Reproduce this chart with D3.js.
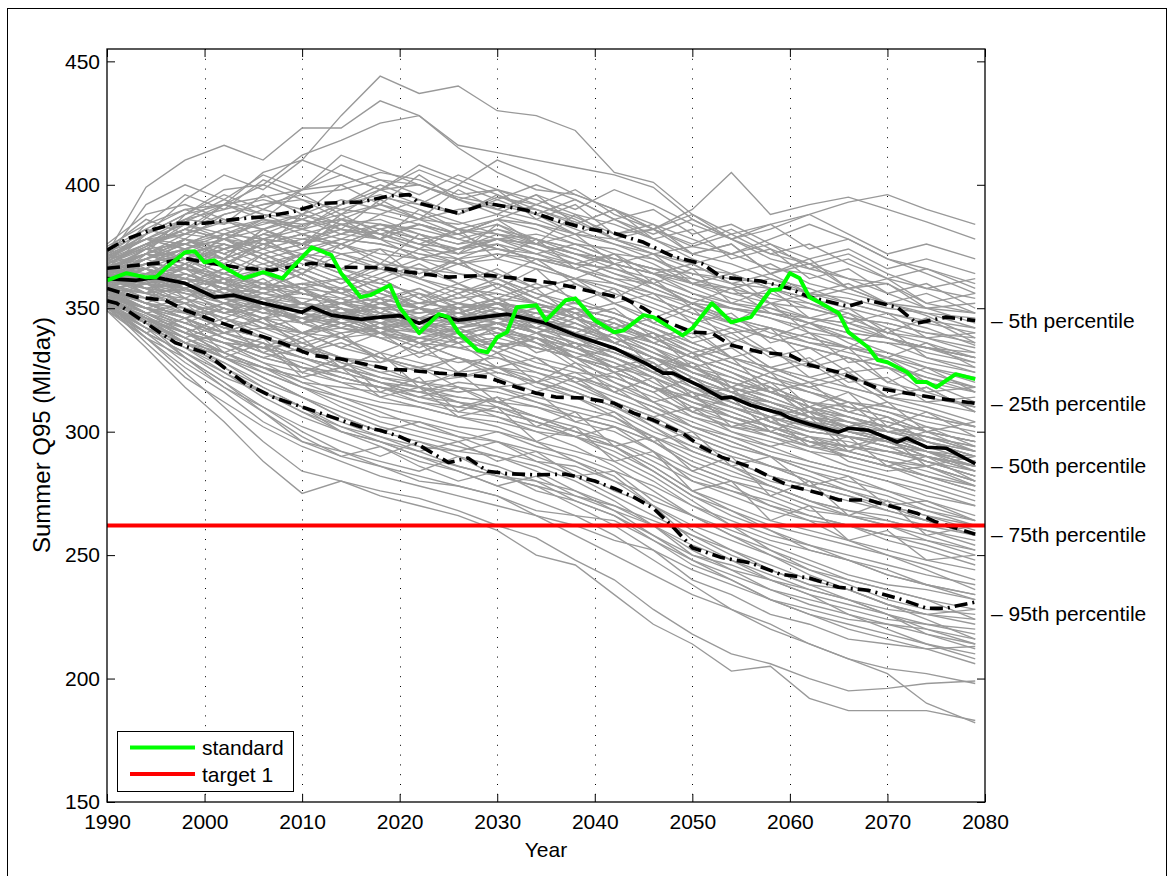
<!DOCTYPE html>
<html><head><meta charset="utf-8">
<script src="https://cdn.jsdelivr.net/npm/d3@7/dist/d3.min.js"></script>
<style>body{margin:0;background:#fff} text{font-family:"Liberation Sans",Arial,Helvetica,sans-serif;fill:#000}</style>
</head><body><svg id="c" width="1174" height="876"></svg>
<script>
// ---- data ----
const years = [1990,1994,1998,2002,2006,2010,2014,2018,2022,2026,2030,2034,2038,2042,2046,2050,2054,2058,2062,2066,2070,2074,2079];
const ensemble = [
[368,376,385,392,405,410,428,444,437,440,430,428,422,405,401,388,380,372,368,362,360,352,348],
[366,372,388,398,400,412,418,425,428,416,413,410,407,404,399,386,378,370,366,362,356,350,344],
[372,399,410,416,410,423,423,434,428,415,405,398,396,390,382,375,372,366,364,358,352,347,338],
[365,372,380,378,385,383,390,395,392,388,395,392,387,380,382,390,405,388,392,395,390,385,378],
[368,375,382,388,392,396,398,402,400,395,392,390,385,378,372,375,380,384,388,393,396,390,384],
[375,384,390,392,395,398,400,405,402,396,398,394,388,384,378,372,368,362,358,352,348,345,342],
[370,378,380,385,382,388,394,390,386,384,388,384,378,372,370,362,356,356,350,346,344,340,336],
[368,375,386,384,390,386,392,398,400,394,390,386,380,378,374,368,360,352,346,344,338,334,330],
[372,382,378,388,392,394,390,388,384,380,386,382,376,374,368,360,358,354,352,348,342,338,340],
[366,372,376,380,386,384,388,392,388,382,380,378,374,368,364,356,350,348,344,338,336,330,326],
[370,374,384,380,378,384,386,382,386,390,392,388,382,376,372,366,364,358,354,350,346,342,335],
[364,370,374,378,376,380,384,386,380,376,382,378,372,366,360,354,350,346,340,338,332,328,324],
[374,380,388,392,388,386,392,396,390,385,380,374,370,364,358,352,346,342,336,334,330,324,318],
[368,372,378,374,380,378,376,382,378,380,386,384,380,376,370,364,360,358,352,346,340,336,330],
[362,368,372,376,372,376,380,378,374,372,374,370,366,362,356,350,346,340,336,332,328,322,318],
[371,378,376,382,386,382,378,376,372,370,372,368,362,358,352,346,340,342,338,334,330,326,322],
[366,372,370,374,378,382,386,384,380,376,378,376,372,368,364,358,352,348,346,342,338,334,332],
[369,376,382,378,374,378,382,380,384,380,374,370,368,366,362,356,352,350,344,340,338,332,328],
[373,378,374,380,384,388,384,380,376,374,378,380,376,370,366,360,354,350,346,344,340,338,334],
[367,370,378,376,370,374,378,376,372,368,370,366,362,360,354,348,344,338,334,330,326,320,316],
[365,374,376,372,378,376,372,374,370,374,376,372,368,362,360,352,346,342,338,334,332,326,320],
[370,376,380,386,382,376,380,384,382,378,374,372,366,360,356,352,350,346,342,338,336,334,330],
[364,368,372,370,376,380,376,372,370,368,372,370,366,360,354,348,342,338,334,330,326,322,316],
[362,360,364,358,354,356,352,350,348,352,350,346,342,336,330,322,316,310,306,302,300,296,290],
[360,364,358,352,350,346,350,348,346,344,348,346,340,334,328,318,314,312,306,304,298,292,288],
[364,366,362,360,356,352,348,352,350,348,346,342,338,330,324,316,310,304,300,298,296,292,286],
[358,356,354,350,346,344,346,342,340,342,346,344,342,336,330,324,318,312,308,304,300,298,292],
[363,362,366,362,358,356,354,350,344,340,344,340,334,328,320,312,306,302,296,294,290,286,280],
[361,358,356,354,352,348,344,340,342,346,350,348,342,338,332,326,320,316,310,306,302,298,294],
[366,364,362,358,352,350,352,354,350,348,352,350,346,340,334,324,318,314,308,302,296,290,284],
[359,356,352,348,350,352,348,344,340,338,340,336,332,328,322,314,308,302,298,296,292,288,282],
[364,368,366,362,360,358,356,352,348,350,354,352,348,344,338,330,324,318,312,310,306,300,296],
[357,352,350,346,342,340,338,340,338,336,338,334,330,324,318,310,304,298,294,292,288,286,280],
[362,363,360,356,354,350,346,344,342,344,342,338,332,326,318,310,306,300,296,294,292,290,284],
[365,362,358,354,348,346,348,350,352,354,356,352,346,340,334,328,322,316,312,308,304,300,296],
[360,362,364,360,356,352,350,346,344,346,348,342,336,330,322,316,312,306,302,298,294,288,282],
[363,358,360,356,350,344,340,342,344,348,352,350,346,342,338,332,326,320,316,312,308,302,298],
[361,366,362,358,356,354,352,348,342,338,340,338,334,326,318,308,302,298,292,290,286,282,276],
[358,360,356,350,346,348,352,354,350,346,344,340,336,332,326,320,314,308,304,300,298,294,288],
[364,360,358,352,348,346,344,346,348,350,352,348,344,338,330,322,316,312,306,302,300,296,290],
[362,364,366,364,360,356,352,348,346,344,346,344,340,336,330,322,316,308,302,300,296,290,286],
[359,362,360,354,350,352,350,346,342,340,344,342,338,334,328,318,312,306,300,298,294,292,288],
[363,361,357,355,352,348,346,344,346,348,344,340,334,330,324,318,310,304,300,298,296,292,284],
[367,366,362,360,358,360,358,356,352,350,352,350,344,338,332,326,318,312,306,304,302,298,294],
[356,354,352,348,344,340,342,340,336,334,336,334,330,326,322,314,310,304,298,294,292,290,286],
[361,360,362,358,354,352,348,346,344,342,344,340,336,332,326,320,316,310,304,302,298,292,290],
[364,362,356,352,350,346,342,338,338,340,342,338,334,330,324,316,310,306,302,298,294,288,282],
[356,348,340,334,328,324,320,318,316,320,318,312,306,302,296,286,280,274,268,266,262,258,252],
[354,344,338,330,326,320,318,316,312,310,314,310,304,300,292,280,276,272,266,262,258,254,248],
[358,350,344,340,336,330,326,322,318,316,318,314,310,306,298,290,284,278,272,268,264,260,256],
[352,346,336,332,326,322,316,312,310,306,304,300,298,294,286,276,270,264,260,256,252,248,244],
[355,350,346,338,334,326,322,318,314,312,310,306,302,296,288,280,274,268,264,262,256,252,246],
[357,352,348,342,338,334,328,324,320,322,324,320,316,310,302,294,288,282,278,274,270,266,260],
[353,345,340,336,330,326,324,320,318,314,312,310,306,302,296,288,282,278,272,268,266,262,258],
[356,348,344,338,332,328,322,318,312,308,306,302,298,292,284,274,268,262,258,254,250,246,240],
[354,350,342,336,334,330,326,322,320,318,316,312,308,304,298,292,286,280,276,272,268,264,258],
[351,342,336,330,324,318,314,310,306,302,300,296,292,288,280,270,264,258,254,250,246,242,238],
[349,334,318,304,288,275,280,274,270,266,260,250,246,234,222,214,203,205,192,187,187,187,183],
[350,338,324,310,296,284,280,276,273,268,262,257,248,240,228,218,210,206,200,195,196,198,199],
[352,342,330,320,308,298,290,286,282,278,274,266,258,250,242,234,228,222,214,208,202,190,182],
[354,345,336,326,318,310,300,296,290,286,282,278,270,262,252,240,234,226,222,216,214,212,213],
[353,347,338,330,322,314,306,300,296,292,290,286,280,272,262,250,244,236,232,228,224,222,220],
[356,350,342,336,328,320,314,308,302,298,296,292,288,282,270,256,248,242,236,232,228,226,228],
[376,388,392,386,378,370,364,356,350,342,336,330,320,312,302,292,286,278,272,266,262,256,250],
[350,342,336,340,346,352,358,364,370,374,378,376,370,364,360,354,350,348,344,340,338,334,330],
[358,352,346,338,334,340,346,352,356,350,344,336,326,318,308,300,294,290,286,282,276,270,264],
[368,376,382,378,370,362,356,350,342,338,336,330,326,320,314,308,304,300,294,290,286,280,274],
[362,356,350,342,338,334,330,328,332,338,344,348,350,346,340,332,326,320,316,312,310,306,302],
[355,350,348,352,356,360,362,360,356,352,348,340,330,320,312,302,296,290,284,278,274,268,262],
[370,380,386,390,394,390,384,378,370,364,360,352,346,340,332,324,318,312,306,300,296,290,286],
[357,348,340,332,326,322,326,332,338,342,346,350,352,348,342,334,328,322,316,310,306,300,296],
[364,372,368,360,352,344,338,332,328,324,326,324,320,314,308,302,296,290,284,280,276,272,266],
[360,356,358,364,368,372,370,366,362,358,356,352,348,344,338,330,324,316,310,304,298,292,286],
[366,362,358,352,344,336,330,326,320,316,318,320,324,322,316,306,300,296,292,286,282,278,272],
[354,346,340,336,334,336,340,342,338,334,330,326,322,318,312,306,302,300,296,294,292,288,284],
[371,378,374,368,364,358,350,342,336,330,326,320,314,306,296,286,280,276,270,266,264,260,254],
[359,362,368,374,378,376,372,368,366,364,362,356,352,348,342,336,330,326,322,318,314,312,308],
[363,358,352,346,340,334,328,322,318,312,308,304,300,296,290,282,276,270,266,262,258,256,252],
[360,372,366,380,374,388,382,394,386,398,390,396,384,390,378,382,370,374,362,366,356,360,350],
[364,356,368,360,372,364,376,368,380,372,384,376,388,378,382,372,376,364,368,358,360,350,352],
[358,366,354,362,350,358,346,354,342,350,338,346,334,340,326,332,318,324,310,316,302,308,298],
[370,362,374,366,378,370,366,374,362,370,358,366,352,358,344,350,336,342,328,334,320,326,316],
[356,348,352,340,346,334,340,328,336,324,332,320,328,316,322,308,314,300,306,292,298,286,290],
[362,370,376,370,382,376,388,380,374,382,370,378,366,372,360,366,352,358,346,350,340,346,336],
[352,340,346,332,338,324,330,316,322,308,314,302,308,294,298,284,290,274,280,266,272,258,262],
[366,374,368,376,370,364,372,366,374,368,362,370,360,354,362,350,344,352,340,334,342,330,324],
[360,352,358,348,354,344,350,340,346,336,342,332,336,324,328,314,318,304,308,294,298,286,280],
[374,382,390,384,396,388,400,392,404,394,398,386,392,380,384,372,376,364,370,358,362,352,356],
[355,346,342,330,336,322,326,314,318,306,310,296,302,288,292,276,280,264,270,256,260,248,250],
[368,360,366,356,362,352,358,348,356,346,352,342,348,336,340,326,330,316,320,308,312,300,304],
[361,368,360,366,358,364,356,362,354,360,352,358,346,350,338,342,330,334,322,326,314,318,308],
[357,350,354,344,350,340,334,340,330,336,326,330,320,324,312,316,302,306,294,298,286,290,280],
[372,366,378,370,382,374,386,378,390,382,386,376,380,368,372,360,364,352,356,344,348,338,332],
[350,344,334,326,316,310,302,298,292,296,288,292,282,284,272,266,258,252,246,240,236,232,224],
[353,346,338,332,324,318,312,306,304,300,296,288,282,274,266,258,250,244,238,236,230,224,216],
[364,358,362,354,348,352,344,340,336,330,326,322,316,310,304,296,290,286,280,276,270,264,258],
[369,376,370,362,366,358,362,354,358,350,354,346,350,342,346,336,340,330,334,324,326,316,318],
[358,364,370,364,372,366,360,368,362,356,362,354,360,352,346,352,344,338,344,336,330,336,326],
[365,370,378,372,380,386,380,388,394,388,396,390,384,390,382,376,382,374,368,372,364,358,362],
[351,344,338,344,332,338,326,332,318,324,312,316,304,308,296,300,286,290,278,282,270,272,264],
[362,368,362,370,364,372,366,362,368,360,366,358,362,352,356,344,348,336,340,328,330,320,312],
[359,352,346,350,342,346,338,344,336,342,334,338,330,334,324,328,316,320,308,312,300,302,294],
[367,372,366,374,368,362,356,362,354,348,354,346,340,346,336,330,336,326,320,324,314,310,304],
[354,360,352,346,352,344,348,340,334,340,332,338,328,322,316,322,312,306,310,300,296,300,292],
[363,358,352,358,350,344,350,342,346,340,334,340,334,326,330,320,314,318,306,302,306,296,290],
[370,378,384,378,386,380,374,382,376,370,376,368,362,368,358,352,358,348,344,348,338,334,328],
[352,346,340,346,338,332,338,330,324,330,322,316,322,312,306,310,300,294,298,288,284,286,278],
[366,360,364,358,364,356,352,358,350,356,348,344,350,340,336,340,330,324,328,318,314,318,308],
[360,366,372,368,376,372,378,384,378,372,378,374,368,372,364,368,360,364,356,360,352,356,348],
[355,348,342,336,330,334,326,320,314,318,310,304,298,302,292,284,278,270,264,256,250,244,236],
[358,352,346,340,342,336,330,324,326,318,312,306,300,294,284,274,266,260,252,248,242,238,232],
[364,356,360,352,346,340,344,338,332,328,330,324,318,312,306,298,292,286,280,276,270,266,262],
[371,380,388,396,390,398,404,398,392,400,394,388,394,386,380,386,378,372,376,368,362,366,358],
[349,340,332,324,316,308,302,296,290,284,278,272,266,258,248,238,228,220,214,208,204,202,198],
[351,342,334,328,320,314,308,302,298,294,290,284,276,268,258,248,240,232,226,222,218,214,210],
[362,366,358,362,354,350,354,346,350,344,348,340,344,336,340,332,336,326,330,320,322,312,314],
[357,362,368,362,356,360,354,358,350,346,352,344,338,344,336,330,334,324,318,322,312,308,302],
[366,372,366,360,366,358,352,358,350,356,360,354,348,352,344,338,342,332,326,330,320,316,310],
[370,392,400,394,404,398,408,402,396,404,398,392,398,388,382,388,378,384,374,378,370,366,360],
[366,380,394,404,398,410,404,398,406,400,410,404,396,390,384,378,372,376,366,370,362,358,354],
[374,386,380,392,386,398,412,406,400,394,388,396,390,398,392,384,378,382,388,380,372,376,370],
[368,384,396,390,402,396,388,398,408,402,396,388,380,386,378,370,364,368,360,356,352,348,342],
[372,378,386,394,388,382,392,400,394,388,394,400,394,386,390,380,384,376,370,374,366,370,364],
[364,374,382,392,400,394,386,392,386,380,386,392,386,378,372,368,372,378,384,378,370,364,356],
[352,338,326,316,304,296,290,294,286,280,284,276,272,266,258,250,246,240,236,232,226,222,218],
[350,340,328,318,310,302,296,290,296,290,282,278,274,268,262,252,244,240,234,226,222,218,212],
[353,342,334,324,314,306,300,294,288,284,278,282,274,270,264,258,252,246,240,236,230,226,222],
[351,336,322,312,302,294,288,282,278,274,270,266,262,256,252,244,238,232,228,224,222,220,214],
[354,344,330,320,310,300,292,288,284,290,286,280,272,266,256,246,240,232,226,220,216,212,206],
[349,338,330,318,308,296,292,286,280,278,274,268,266,264,256,248,242,236,230,226,220,214,208],
[352,344,336,328,318,310,304,298,294,292,296,290,284,276,270,262,256,250,244,240,236,232,228],
[355,346,336,330,322,314,306,300,304,298,292,288,286,280,274,266,260,254,248,242,238,236,232],
[351,340,332,322,316,308,300,296,292,286,282,280,276,270,262,254,248,240,234,230,226,220,216],
[353,348,340,332,326,318,310,304,300,296,300,294,290,284,278,270,262,256,252,248,244,238,234],
[356,350,344,338,332,326,320,314,310,306,302,296,288,280,270,260,252,244,238,232,226,218,214],
[358,352,346,340,334,330,326,320,316,312,306,300,294,286,276,266,258,250,242,236,230,226,224],
[354,348,342,336,330,326,322,318,314,310,308,304,298,290,282,272,262,252,244,238,232,228,226],
[357,350,346,340,336,330,324,320,316,314,312,306,300,294,286,276,268,260,254,248,242,238,234],
[362,356,364,358,352,358,350,344,350,344,350,344,338,332,326,320,314,310,304,300,296,292,288],
[360,366,360,354,360,352,346,352,346,352,346,340,346,336,330,324,320,314,308,306,300,296,292],
[364,358,352,358,352,346,352,346,340,346,340,334,330,324,318,314,306,302,296,292,288,282,278],
[358,364,370,364,358,364,358,352,358,352,358,352,346,340,334,326,322,316,312,306,302,298,292],
[366,360,354,348,354,348,342,348,342,336,342,336,330,324,318,312,306,300,296,290,286,282,276],
[362,368,374,368,374,368,362,368,362,368,362,356,350,346,340,334,328,322,318,312,308,304,300],
[356,350,344,350,344,338,344,338,332,338,332,326,322,316,310,304,298,294,288,284,280,276,270],
[360,354,360,366,360,366,360,366,360,354,360,354,348,342,336,330,324,318,312,308,304,300,296],
[364,370,364,358,364,370,364,358,352,358,352,346,342,336,330,326,320,316,310,306,302,296,292],
[358,352,346,352,358,352,346,340,346,340,334,338,330,326,318,312,308,302,298,292,288,284,278],
[362,358,348,342,338,332,336,330,326,330,324,320,316,310,304,298,292,286,282,276,272,268,264],
[366,372,378,372,366,372,366,360,366,360,354,360,354,348,342,336,330,326,320,316,310,306,302],
[361,354,348,342,346,340,334,330,326,322,326,318,314,308,300,294,288,282,278,274,268,264,258],
[363,370,376,382,376,370,376,370,364,370,364,358,362,356,350,344,338,332,328,322,318,314,310],
[359,364,358,352,346,340,346,340,336,340,334,328,324,316,310,302,298,292,288,284,280,274,270],
[366,372,378,374,380,376,382,378,384,378,382,376,372,368,364,360,356,352,350,346,344,340,338],
[362,370,374,370,376,380,376,382,378,374,380,376,372,370,366,364,362,360,356,354,350,348,346],
[368,374,370,378,372,376,384,380,376,382,378,372,376,370,366,360,364,358,354,358,352,350,348],
[364,368,374,378,382,386,382,378,384,380,384,378,374,368,364,362,358,362,356,352,348,344,340]
];
const pct5 = [[1990,373.5],[1992,378],[1994,381],[1997,384.4],[2000,384.4],[2003,386],[2006,387],[2009,389],[2012,392.5],[2016,393],[2019,395.5],[2021,396],[2022,392.5],[2026,388.5],[2029,392.5],[2033,389.7],[2036,385.6],[2039,382.4],[2042,380.4],[2045,376.7],[2048,371],[2051,368],[2053,362.6],[2057,361],[2060,358],[2062,354.5],[2066,350.8],[2068,353.2],[2071,350.4],[2073,343.9],[2076,346.4],[2079,345]];
const pct25 = [[1990,366.2],[1993,367.4],[1996,368.6],[1998,370.2],[2000,368.6],[2004,366.2],[2007,365.4],[2011,368.2],[2014,366.6],[2018,366.4],[2021,364.6],[2025,362.6],[2029,363.4],[2032,362.1],[2036,360.1],[2040,356.5],[2043,354],[2045,350],[2047,345.1],[2050,340.3],[2052,339.9],[2054,335],[2057,332.2],[2060,331],[2062,327],[2065,324.1],[2067,320.9],[2069,317.6],[2072,315.6],[2075,313.6],[2079,311.5]];
const pct50 = [[1990,362],[1993,361.3],[1995,362.5],[1998,360.1],[2001,354.5],[2003,355.3],[2006,352],[2010,348.4],[2011,350.4],[2013,347.2],[2016,345.5],[2018,346.4],[2020,347],[2022,343.9],[2024,347.2],[2026,345.1],[2031,347.6],[2035,343.9],[2038,339.1],[2042,333.8],[2045,328.1],[2047,323.7],[2048,323.7],[2051,318],[2053,313.6],[2054,314],[2056,310.7],[2059,307.5],[2060,305.5],[2062,303],[2065,299.8],[2066,301.4],[2068,300.6],[2071,295.8],[2072,297.4],[2074,293.7],[2076,293.3],[2079,287]];
const pct75 = [[1990,358],[1993,354.5],[1996,353.2],[1998,349.2],[2001,345],[2004,341],[2006,338.5],[2008,335.8],[2011,331],[2014,329.4],[2016,327.7],[2019,325.3],[2021,324.9],[2024,323.7],[2027,322.9],[2029,322.1],[2032,318],[2034,315.6],[2036,314],[2039,313.6],[2042,311.5],[2044,307.5],[2046,304.7],[2049,299.4],[2051,293.7],[2053,289.7],[2056,285.6],[2058,281.6],[2060,278],[2063,275.1],[2065,272.3],[2068,272.3],[2070,270.2],[2073,267],[2075,263.4],[2079,258.5]];
const pct95 = [[1990,353],[1991,352],[1994,344],[1997,336],[2000,332],[2002,326],[2004,320],[2007,314],[2010,310],[2013,306],[2016,302],[2018,300.6],[2020,298],[2022,294.5],[2025,287.5],[2027,289.3],[2029,284],[2031,283],[2034,282.5],[2037,282.8],[2040,280],[2042,277],[2044,273.5],[2046,269],[2048,261.5],[2050,253],[2053,249],[2056,246.8],[2059,242.3],[2062,240.7],[2065,237],[2068,235.8],[2071,232.6],[2074,228.5],[2076,228.5],[2079,231]];
const standard = [[1990,361.3],[1992,364.2],[1994,362.5],[1995,362.5],[1996,366.2],[1998,372.7],[1999,373.1],[2000,368.6],[2001,369.4],[2002,366.6],[2004,362.1],[2006,364.6],[2008,362.1],[2009,366.6],[2011,374.7],[2013,371.5],[2014,364.2],[2016,354.5],[2017,355.3],[2019,359.3],[2020,350.4],[2022,339.9],[2024,347.6],[2025,346.4],[2026,340.3],[2028,333],[2029,332.2],[2030,338.3],[2031,340.3],[2032,350.4],[2034,351.2],[2035,345.1],[2037,353.2],[2038,354],[2040,345.1],[2042,340.3],[2043,341.1],[2045,347.2],[2046,346.4],[2049,339],[2050,341.9],[2052,352],[2054,344.3],[2056,346.4],[2058,357.3],[2059,357.7],[2060,364.2],[2061,362.1],[2062,354.5],[2063,352.4],[2065,348],[2066,340.3],[2068,334.2],[2069,329],[2070,328.1],[2072,324.1],[2073,320.1],[2074,320.1],[2075,318],[2077,323.3],[2079,321.3]];
const target1 = 262;
const xTicks = [1990,2000,2010,2020,2030,2040,2050,2060,2070,2080];
const yTicks = [150,200,250,300,350,400,450];
const gridYears = [2000,2010,2020,2030,2040,2050,2060,2070];
const pctLabels = ["\u2013 5th percentile","\u2013 25th percentile","\u2013 50th percentile","\u2013 75th percentile","\u2013 95th percentile"];
const pctLabelValues = [345.2,311.5,286.5,258.2,226.5];
const legendNames = ["standard","target 1"];
const legendColors = ["#00ff00","#ff0000"];

// ---- drawing ----
const svg = d3.select("#c");
const L = 107, R = 985, T = 49, B = 802;
const x = d3.scaleLinear().domain([1990,2080]).range([L,R]);
const y = d3.scaleLinear().domain([150,455]).range([B,T]);

svg.append("rect").attr("x",7.5).attr("y",8.5).attr("width",1159).attr("height",900)
  .attr("fill","none").attr("stroke","#000").attr("stroke-width",1);
svg.append("rect").attr("x",L).attr("y",T).attr("width",R-L).attr("height",B-T).attr("fill","#fff");

// grid
svg.append("g").selectAll("line").data(gridYears).join("line")
  .attr("x1",d=>Math.round(x(d))+0.5).attr("x2",d=>Math.round(x(d))+0.5).attr("y1",T).attr("y2",B)
  .attr("stroke","#000").attr("stroke-width",1).attr("stroke-dasharray","1,8.8");

svg.append("clipPath").attr("id","pc").append("rect").attr("x",L).attr("y",T).attr("width",R-L).attr("height",B-T);
const plot = svg.append("g").attr("clip-path","url(#pc)");

const ens = d3.line().x((d,i)=>x(years[i])).y(d=>y(d));
plot.append("g").selectAll("path").data(ensemble).join("path")
  .attr("d",ens).attr("fill","none").attr("stroke","#999999").attr("stroke-width",1.35);

const pl = d3.line().x(d=>x(d[0])).y(d=>y(d[1]));
const dashDot = "13,5,2,5", dashed = "13,7";
[[pct5,dashDot],[pct95,dashDot],[pct25,dashed],[pct75,dashed],[pct50,null]].forEach(([d,da])=>{
  const p = plot.append("path").attr("d",pl(d)).attr("fill","none").attr("stroke","#000")
    .attr("stroke-width",3.6).attr("stroke-linejoin","round");
  if (da) p.attr("stroke-dasharray",da);
});
plot.append("path").attr("d",pl(standard)).attr("fill","none").attr("stroke","#00ff00")
  .attr("stroke-width",4).attr("stroke-linejoin","round");
plot.append("line").attr("x1",L).attr("x2",R).attr("y1",y(target1)).attr("y2",y(target1))
  .attr("stroke","#ff0000").attr("stroke-width",4);

// axes
const fs = "21px";
const ax = svg.append("g");
ax.append("g").attr("transform",`translate(${L},0)`)
  .call(d3.axisLeft(y).tickValues(yTicks).tickSize(-8).tickPadding(7).tickSizeOuter(0).tickFormat(d3.format("d")));
ax.append("g").attr("transform",`translate(${R},0)`)
  .call(d3.axisRight(y).tickValues(yTicks).tickSize(-8).tickSizeOuter(0).tickFormat(""));
ax.append("g").attr("transform",`translate(0,${B})`)
  .call(d3.axisBottom(x).tickValues(xTicks).tickSize(-8).tickPadding(12).tickSizeOuter(0).tickFormat(d3.format("d")));
ax.append("g").attr("transform",`translate(0,${T})`)
  .call(d3.axisTop(x).tickValues(xTicks).tickSize(-8).tickSizeOuter(0).tickFormat(""));
ax.selectAll(".domain").remove();
ax.selectAll("text").attr("font-size",fs).attr("font-family",'"Liberation Sans",Arial,sans-serif').attr("fill","#000");
ax.selectAll(".tick line").attr("stroke","#000");
svg.append("rect").attr("x",L).attr("y",T).attr("width",R-L).attr("height",B-T)
  .attr("fill","none").attr("stroke","#000").attr("stroke-width",1.3);

// axis labels
svg.append("text").attr("x",(L+R)/2).attr("y",857).attr("text-anchor","middle").attr("font-size",fs).text("Year");
svg.append("text").attr("transform",`translate(50,435) rotate(-90)`).attr("text-anchor","middle")
  .attr("font-size","24px").text("Summer Q95 (Ml/day)");

// percentile annotations
svg.append("g").selectAll("text").data(pctLabels).join("text")
  .attr("x",991).attr("y",(d,i)=>y(pctLabelValues[i])).attr("dy","0.36em")
  .attr("font-size",fs).text(d=>d);

// legend
const lg = svg.append("g");
lg.append("rect").attr("x",117.5).attr("y",731.5).attr("width",176).attr("height",60)
  .attr("fill","#fff").attr("stroke","#000").attr("stroke-width",1);
lg.selectAll("line").data(legendNames).join("line")
  .attr("x1",130).attr("x2",195).attr("y1",(d,i)=>747.5+i*26.5).attr("y2",(d,i)=>747.5+i*26.5)
  .attr("stroke",(d,i)=>legendColors[i]).attr("stroke-width",4);
lg.selectAll("text").data(legendNames).join("text")
  .attr("x",202).attr("y",(d,i)=>747.5+i*26.5).attr("dy","0.36em").attr("font-size",fs).text(d=>d);
</script></body></html>
